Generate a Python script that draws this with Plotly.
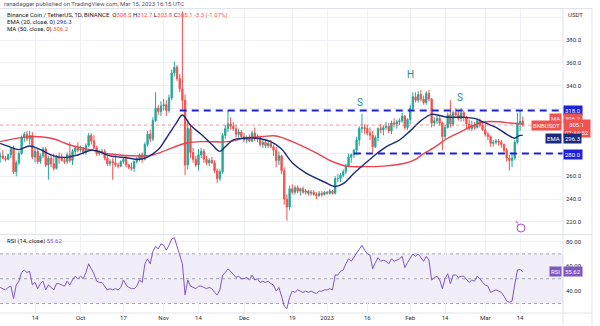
import plotly.graph_objects as go
import pandas as pd

# ---------------- DATA ----------------
# Daily candles, 2022-09-01 .. 2023-03-15
open_sep = [277,278,276,275,279,284,264,272,280,294,297,293,296,277,282,273,278,284,270,276,271,267,277,276,274,273,279,274,282,285]
high_sep = [281,283,278,280,286,287,274,282,296,299,300,300,299,285,284,280,286,286,278,279,280,279,281,280,277,281,290,284,287,290]
low_sep  = [272,275,273,274,276,262,260,270,279,290,291,288,275,272,271,271,276,268,257,268,265,266,271,273,271,271,272,270,278,281]
close_sep= [278,276,275,279,284,264,272,280,294,297,293,296,277,282,273,278,284,270,276,271,267,277,276,274,273,279,274,282,285,283]

open_oct = [283,284,281,287,296,291,285,280,281,282,276,271,273,272,270,269,273,275,270,268,267,273,275,279,275,288,297,293,309,320,317]
high_oct = [287,286,289,298,298,296,287,283,284,284,278,275,276,280,272,274,276,278,271,272,274,277,280,281,290,300,301,312,334,323,326]
low_oct  = [281,279,279,286,288,284,278,278,279,274,269,269,257,268,267,268,271,268,266,265,264,271,273,272,274,286,290,291,308,314,313]
close_oct= [284,281,287,296,291,285,280,281,282,276,271,273,272,270,269,273,275,270,268,267,273,275,279,275,288,297,293,309,320,317,322]

open_nov = [322,323,318,329,351,356,346,337,327,270,302,281,275,270,279,282,275,272,274,272,265,258,264,296,302,306,304,302,297,299]
high_nov = [328,327,332,354,361,358,350,405,332,310,306,285,278,284,285,284,278,276,277,274,267,266,298,305,318,312,308,305,302,301]
low_nov  = [318,313,316,327,348,344,334,318,261,266,276,272,268,265,276,272,270,269,271,263,254,256,262,293,299,301,300,294,294,293]
close_nov= [323,318,329,351,356,346,337,327,270,302,281,275,270,279,282,275,272,274,272,265,258,264,296,302,306,304,302,297,299,295]

open_dec = [295,292,294,291,298,293,294,288,290,287,289,286,283,274,278,265,240,233,249,246,250,247,249,246,247,245,246,244,243,245,244]
high_dec = [298,296,297,300,303,297,296,292,293,291,292,288,286,282,279,268,244,252,253,252,252,250,251,249,248,248,248,246,247,247,247]
low_dec  = [290,289,290,290,291,290,286,285,285,285,285,278,268,270,262,235,221,230,244,244,245,243,245,244,243,243,243,240,242,242,243]
close_dec= [292,294,291,298,293,294,288,290,287,289,286,283,274,278,265,240,233,249,246,250,247,249,246,247,245,246,244,243,245,244,246]

open_jan = [246,245,247,245,258,258,261,264,269,277,279,283,292,302,303,302,298,296,286,294,302,301,303,304,300,307,306,308,309,313,303]
high_jan = [247,249,248,260,262,263,266,271,280,280,284,295,304,315,306,305,303,300,296,303,306,305,308,307,309,311,310,311,316,314,311]
low_jan  = [244,244,244,244,255,255,259,262,268,272,276,279,287,298,297,296,292,281,285,291,298,296,301,298,297,303,302,305,307,301,301]
close_jan= [245,247,245,258,258,261,264,269,277,279,283,292,302,303,302,298,296,286,294,302,301,303,304,300,307,306,308,309,313,303,310]

open_feb = [310,320,330,327,332,328,325,333,328,307,309,311,307,295,303,314,306,316,314,311,316,312,306,302,305,303,309,305]
high_feb = [323,334,334,335,336,331,335,336,329,312,313,313,308,305,316,327,318,320,318,320,318,313,310,309,308,311,311,308]
low_feb  = [306,318,325,325,326,323,323,326,303,304,306,305,283,292,302,303,304,313,309,308,308,302,300,300,301,302,303,300]
close_feb= [320,330,327,332,328,325,333,328,307,309,311,307,295,303,314,306,316,314,311,316,312,306,302,305,303,309,305,301]

open_mar = [301,297,295,289,290,291,290,288,283,276,274,276,290,307,308.5]
high_mar = [306,299,296,292,293,293,292,289,285,279,281,292,316,318,312.7]
low_mar  = [295,292,286,286,288,287,285,281,273,265,268,274,288,300,303.8]
close_mar= [297,295,289,290,291,290,288,283,276,274,276,290,307,308.5,305.1]

rsi_sep = [43,42,41,43,44,34,45,48,55,57,55,56,45,47,42,46,48,41,45,43,41,46,46,45,44,48,45,49,52,50]
rsi_oct = [52,50,55,62,58,54,48,47,47,44,41,42,41,42,41,43,49,45,43,42,42,44,49,47,62,66,62,72,76,74,78]
rsi_nov = [77,73,77,82,83,76,70,62,37,49,44,43,42,44,44,43,42,43,42,39,37,41,53,55,58,56,53,51,52,50]
rsi_dec = [50,51,49,53,49,50,47,48,47,48,46,45,40,43,36,28,26,35,40,39,41,40,39,40,39,40,39,38,40,40,41]
rsi_jan = [41,42,41,53,53,56,57,62,66,64,67,71,74,77,73,70,69,58,63,67,64,65,64,62,66,64,65,66,68,59,63]
rsi_feb = [66,70,68,70,67,64,68,65,49,51,52,49,42,50,54,46,53,53,51,52,52,49,47,49,48,52,50,47]
rsi_mar = [45,44,39,40,41,40,39,36,32,31,32,45,57,57.5,55.62]

ema_dates = ["2022-09-01","2022-09-06","2022-09-08","2022-09-12","2022-09-16","2022-09-21","2022-09-26","2022-09-30",
             "2022-10-05","2022-10-08","2022-10-12","2022-10-18","2022-10-23","2022-10-26","2022-10-30","2022-11-02",
             "2022-11-06","2022-11-08","2022-11-11","2022-11-15","2022-11-19","2022-11-22","2022-11-24","2022-11-27",
             "2022-12-01","2022-12-05","2022-12-11","2022-12-15","2022-12-19","2022-12-24","2022-12-31","2023-01-04",
             "2023-01-07","2023-01-11","2023-01-15","2023-01-19","2023-01-23","2023-01-28","2023-02-01","2023-02-05",
             "2023-02-09","2023-02-12","2023-02-15","2023-02-20","2023-02-25","2023-03-01","2023-03-05","2023-03-09",
             "2023-03-12","2023-03-13","2023-03-14","2023-03-15"]
ema_vals = [289,284.7,283.5,286.7,283.5,278,276.7,278.8,283,281.7,278,276.4,275,277,283.5,293.5,
            308,314,305,297,288,282,286,292,293.5,293.7,290.5,284,272,263,255,251,
            253.5,262.7,271,279,286,292,300,309,314.5,313.5,312,312,311,307,303,297,
            293.5,295,296,296.3]

ma_dates = ["2022-09-01","2022-09-12","2022-09-20","2022-09-27","2022-10-05","2022-10-12","2022-10-23","2022-10-28",
            "2022-11-02","2022-11-07","2022-11-10","2022-11-15","2022-11-25","2022-12-01","2022-12-08","2022-12-13",
            "2022-12-19","2022-12-27","2023-01-03","2023-01-08","2023-01-15","2023-01-22","2023-01-30","2023-02-03",
            "2023-02-06","2023-02-10","2023-02-15","2023-02-20","2023-02-25","2023-03-01","2023-03-06","2023-03-11",
            "2023-03-15"]
ma_vals = [290.5,294.9,293.5,287.6,283.2,279.6,277.9,278.8,283,287.6,289.5,290.5,290.5,293.5,295,295.5,
           290.5,281.7,273,269,268.5,269,271.5,275,280,285.5,293.5,299.3,305.2,308,308,306.7,306.2]

tick_dates = ["2022-09-14","2022-10-01","2022-10-17","2022-11-01","2022-11-14","2022-12-01","2022-12-19",
              "2023-01-01","2023-01-16","2023-02-01","2023-02-14","2023-03-01","2023-03-14"]
tick_labels = ["14","Oct","17","Nov","14","Dec","19","2023","16","Feb","14","Mar","14"]

price_ticks = [220,240,260,280,300,320,340,360,380,400]
price_labels = ["220.0","240.0","260.0","","","","340.0","360.0","380.0",""]

# ---------------- assembly ----------------
O = open_sep+open_oct+open_nov+open_dec+open_jan+open_feb+open_mar
H = high_sep+high_oct+high_nov+high_dec+high_jan+high_feb+high_mar
L = low_sep+low_oct+low_nov+low_dec+low_jan+low_feb+low_mar
C = close_sep+close_oct+close_nov+close_dec+close_jan+close_feb+close_mar
R = rsi_sep+rsi_oct+rsi_nov+rsi_dec+rsi_jan+rsi_feb+rsi_mar
dates = pd.date_range("2022-09-01", periods=len(C), freq="D")

TEAL = "#26a69a"
RED = "#ef5350"
NAVY = "#1b2a7a"
BLUE = "#1e22d6"
PURPLE = "#7e57c2"
FONT = "Roboto"

W, Hh = 600, 326
PL, PR = 0, 563      # plot area x in pixels
PT, PB = 9, 313      # plot area y in pixels

def px(x):
    return (x - PL) / (PR - PL)

def py(y):
    return (PB - y) / (PB - PT)

fig = go.Figure()
fig.add_trace(go.Candlestick(
    x=dates, open=O, high=H, low=L, close=C,
    increasing=dict(line=dict(color=TEAL, width=1), fillcolor=TEAL),
    decreasing=dict(line=dict(color=RED, width=1), fillcolor=RED),
    whiskerwidth=0, showlegend=False, hoverinfo="skip", xaxis="x", yaxis="y"))
fig.add_trace(go.Scatter(x=pd.to_datetime(ma_dates), y=ma_vals, mode="lines",
                         line=dict(color="#e8434f", width=1.4, shape="spline", smoothing=1.0),
                         showlegend=False, hoverinfo="skip", xaxis="x", yaxis="y"))
fig.add_trace(go.Scatter(x=pd.to_datetime(ema_dates), y=ema_vals, mode="lines",
                         line=dict(color=NAVY, width=1.4, shape="spline", smoothing=1.0),
                         showlegend=False, hoverinfo="skip", xaxis="x", yaxis="y"))
fig.add_trace(go.Scatter(x=dates, y=R, mode="lines", line=dict(color=PURPLE, width=1),
                         showlegend=False, hoverinfo="skip", xaxis="x2", yaxis="y2"))

sept14 = pd.Timestamp("2022-09-14")
ppd = 2.68
x_left = sept14 - pd.Timedelta(days=35 / ppd)
x_right = sept14 + pd.Timedelta(days=(PR - 35) / ppd)

y_main = [380 - (234 - 40) / 1.136, 380 + (40 - PT) / 1.136]
y_rsi = [80 - (PB - 241) / 1.25, 80 + (241 - 235) / 1.25]

grid = "#eef0f5"
axfont = dict(family=FONT, size=6, color="#2a2e39")

fig.update_layout(
    width=W, height=Hh, margin=dict(l=PL, r=W - PR, t=PT, b=Hh - PB),
    paper_bgcolor="white", plot_bgcolor="white", showlegend=False,
    xaxis=dict(domain=[0, 1], range=[x_left, x_right], anchor="y", rangeslider=dict(visible=False),
               tickvals=pd.to_datetime(tick_dates), showticklabels=False, showgrid=True, gridcolor=grid,
               gridwidth=1, zeroline=False, showline=False, ticks=""),
    xaxis2=dict(domain=[0, 1], range=[x_left, x_right], anchor="y2", matches="x",
                tickvals=pd.to_datetime(tick_dates), ticktext=tick_labels, tickfont=axfont,
                showgrid=True, gridcolor=grid, zeroline=False, showline=False, ticks=""),
    yaxis=dict(domain=[py(234), 1], range=y_main, side="right", anchor="x",
               tickvals=price_ticks, ticktext=price_labels, tickfont=axfont,
               showgrid=True, gridcolor=grid, zeroline=False, ticks="", ticklabelstandoff=2),
    yaxis2=dict(domain=[0, py(235.5)], range=y_rsi, side="right", anchor="x2",
                tickvals=[40, 60, 80], ticktext=["40.00", "60.00", "80.00"], tickfont=axfont,
                showgrid=True, gridcolor=grid, zeroline=False, ticks="", ticklabelstandoff=2),
)

shapes = []
# RSI band and levels
shapes.append(dict(type="rect", xref="x2 domain", yref="y2", x0=0, x1=1, y0=30, y1=70,
                   fillcolor="rgba(126,87,194,0.10)", line=dict(width=0), layer="below"))
for lvl in (70, 50, 30):
    shapes.append(dict(type="line", xref="x2 domain", yref="y2", x0=0, x1=1, y0=lvl, y1=lvl,
                       line=dict(color="#a3a6af", width=1, dash="dot"), layer="below"))
# dashed support / resistance
shapes.append(dict(type="line", xref="x", yref="y", x0=pd.Timestamp("2022-11-07"), x1=x_right, y0=318, y1=318,
                   line=dict(color=BLUE, width=2, dash="7px,5px")))
shapes.append(dict(type="line", xref="x", yref="y", x0=pd.Timestamp("2023-01-11"), x1=x_right, y0=280, y1=280,
                   line=dict(color=BLUE, width=2, dash="7px,5px")))
# last price line
shapes.append(dict(type="line", xref="x domain", yref="y", x0=0, x1=1, y0=305.1, y1=305.1,
                   line=dict(color="rgba(239,83,80,0.6)", width=1, dash="dot")))
# frame, separators
line_c = "#e0e3eb"
shapes.append(dict(type="line", xref="paper", yref="paper", x0=px(0), x1=px(592), y0=py(234.5), y1=py(234.5),
                   line=dict(color=line_c, width=1)))
shapes.append(dict(type="line", xref="paper", yref="paper", x0=px(0), x1=px(592), y0=py(PB), y1=py(PB),
                   line=dict(color=line_c, width=1)))
shapes.append(dict(type="line", xref="paper", yref="paper", x0=px(0), x1=px(592), y0=py(8.5), y1=py(8.5),
                   line=dict(color=line_c, width=1)))
shapes.append(dict(type="line", xref="paper", yref="paper", x0=px(PR), x1=px(PR), y0=py(8.5), y1=py(325),
                   line=dict(color=line_c, width=1)))
shapes.append(dict(type="line", xref="paper", yref="paper", x0=px(592), x1=px(592), y0=py(8.5), y1=py(325),
                   line=dict(color=line_c, width=1)))
# event icon
shapes.append(dict(type="circle", xref="paper", yref="paper", x0=px(517), x1=px(525), y0=py(232), y1=py(224),
                   line=dict(color="#b04fc0", width=1), fillcolor="white"))
fig.update_layout(shapes=shapes)

ann = []
def text(x, y, t, size=6, color="#131722", xanchor="left", **kw):
    ann.append(dict(xref="paper", yref="paper", x=px(x), y=py(y), text=t, showarrow=False,
                    xanchor=xanchor, yanchor="middle", font=dict(family=FONT, size=size, color=color), **kw))

def box(x, y, t, bg, xanchor="left", size=6):
    ann.append(dict(xref="paper", yref="paper", x=px(x), y=py(y), text=t, showarrow=False,
                    xanchor=xanchor, yanchor="middle", bgcolor=bg, borderpad=1,
                    font=dict(family=FONT, size=size, color="white")))

def red(v):
    return "<span style='color:%s'>%s</span>" % (RED, v)

text(2, 4, "ranadagger published on TradingView.com, Mar 15, 2023 16:15 UTC", color="#50535e")
text(5, 15, "Binance Coin / TetherUS, 1D, BINANCE  O" + red("308.5") + " H" + red("312.7") +
     " L" + red("303.8") + " C" + red("305.1") + " " + red("-3.3 (-1.07%)"))
text(5, 22, "EMA (20, close, 0) <span style='color:#1e3bb3'>296.3</span>")
text(5, 29, "MA (50, close, 0) " + red("306.2"))
text(5, 241, "RSI (14, close) <span style='color:%s'>55.62</span>" % PURPLE)
text(566, 14, "USDT", color="#2a2e39")
ann.append(dict(xref="paper", yref="paper", x=px(521), y=py(228), text="ϟ", showarrow=False,
                font=dict(family="DejaVu Sans", size=6, color="#b04fc0")))

box(563, 110.3, "318.0", BLUE)
box(562, 118, "MA", RED, xanchor="right")
box(563, 118, "306.2", RED)
box(562, 125.5, "BNBUSDT", RED, xanchor="right")
box(563, 128.5, "305.1<br>07:44:52", RED)
box(562, 138.7, "EMA", NAVY, xanchor="right")
box(563, 138.7, "296.3", NAVY)
box(563, 154, "280.0", BLUE)
box(562, 271.5, "RSI", PURPLE, xanchor="right")
box(563, 271.5, "55.62", PURPLE)

for d, yv, t in [("2023-01-13 08:00", 325, "S"), ("2023-02-01 06:00", 350, "H"), ("2023-02-19 16:00", 329.5, "S")]:
    ann.append(dict(xref="x", yref="y", x=pd.Timestamp(d), y=yv, text=t, showarrow=False,
                    font=dict(family=FONT, size=10, color="#1f9086")))

fig.update_layout(annotations=ann)
fig.write_html("out.html")
